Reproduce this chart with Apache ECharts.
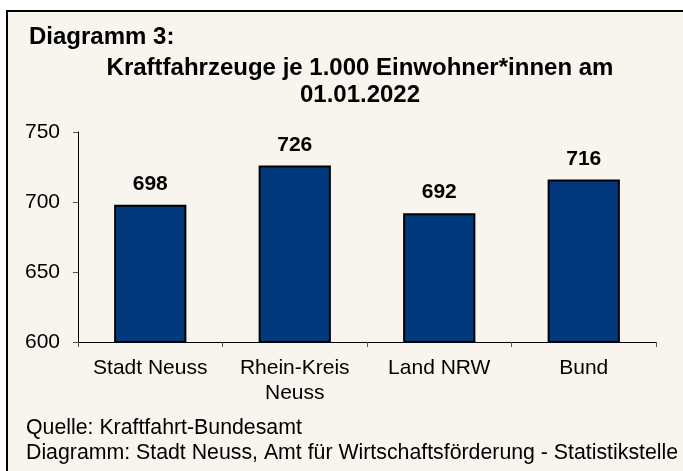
<!DOCTYPE html>
<html>
<head>
<meta charset="utf-8">
<script src="https://cdn.jsdelivr.net/npm/echarts@6/dist/echarts.min.js"></script>
<style>
  html, body { margin: 0; padding: 0; background: #fff; }
  #chart { width: 683px; height: 471px; }
</style>
</head>
<body>
<div id="chart"></div>
<script>
// data
const categories = ["Stadt Neuss", "Rhein-Kreis\nNeuss", "Land NRW", "Bund"];
const values = [698, 726, 692, 716];
const yTicks = [600, 650, 700, 750];

const font = "'Liberation Sans', Arial, sans-serif";

const chart = echarts.init(document.getElementById("chart"));

const option = {
  animation: false,
  backgroundColor: "#ffffff",
  graphic: [
    {
      // cream panel with black frame, cut off at right/bottom like the original
      type: "rect",
      z: -10,
      shape: { x: 7, y: 11, width: 700, height: 480 },
      style: { fill: "#f7f5ee", stroke: "#000", lineWidth: 2 },
    },
    {
      type: "text",
      left: 29,
      top: 25,
      style: { text: "Diagramm 3:", font: "bold 24px " + font, fill: "#000" },
    },
    {
      type: "text",
      x: 360,
      y: 55,
      style: {
        text: "Kraftfahrzeuge je 1.000 Einwohner*innen am\n01.01.2022",
        font: "bold 24px " + font,
        fill: "#000",
        align: "center",
        lineHeight: 27,
      },
    },
    {
      type: "text",
      left: 26,
      top: 416,
      style: {
        text: "Quelle: Kraftfahrt-Bundesamt\nDiagramm: Stadt Neuss, Amt für Wirtschaftsförderung - Statistikstelle",
        font: "21.3px " + font,
        fill: "#000",
        lineHeight: 25,
      },
    },
  ],
  grid: { left: 78, right: 27, top: 132, bottom: 129 },
  xAxis: {
    type: "category",
    data: categories,
    axisLine: { lineStyle: { color: "#000", width: 1 } },
    axisTick: { show: true, length: 5, lineStyle: { color: "#555" } },
    axisLabel: {
      color: "#000",
      fontFamily: font,
      fontSize: 21,
      lineHeight: 25,
      margin: 14,
      interval: 0,
    },
  },
  yAxis: {
    type: "value",
    min: yTicks[0],
    max: yTicks[yTicks.length - 1],
    interval: 50,
    splitLine: { show: false },
    axisLine: { show: true, lineStyle: { color: "#000", width: 1 } },
    axisTick: { show: true, length: 5, lineStyle: { color: "#555" } },
    axisLabel: { color: "#000", fontFamily: font, fontSize: 21, margin: 18 },
  },
  series: [
    {
      type: "bar",
      data: values,
      barWidth: "50%",
      itemStyle: { color: "#003a7c", borderColor: "#000", borderWidth: 2 },
      label: {
        show: true,
        position: "top",
        distance: 10,
        color: "#000",
        fontFamily: font,
        fontWeight: "bold",
        fontSize: 21,
      },
    },
  ],
};

chart.setOption(option);
</script>
</body>
</html>
